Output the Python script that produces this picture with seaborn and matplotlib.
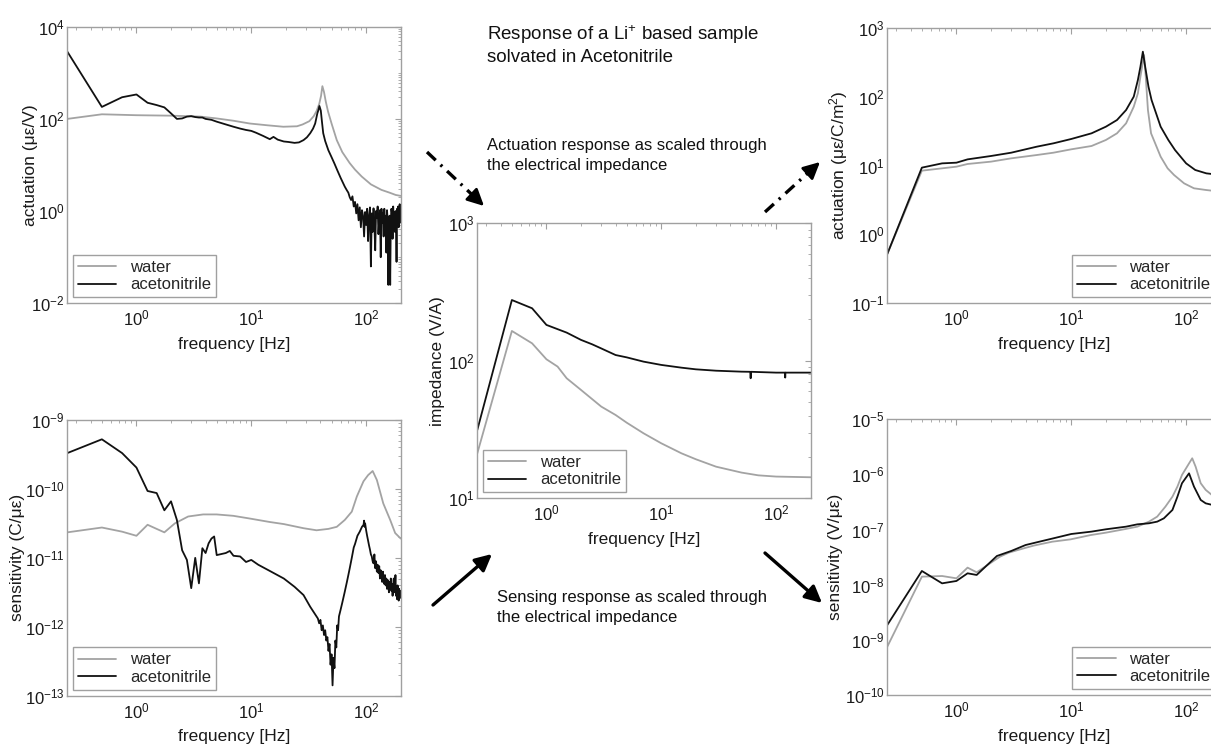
import numpy as np
import pandas as pd
import matplotlib
matplotlib.use("Agg")
import matplotlib.pyplot as plt
import seaborn as sns
from matplotlib.ticker import LogLocator, NullFormatter, FixedLocator, LogFormatterSciNotation
from matplotlib.lines import Line2D
from matplotlib.patches import FancyArrowPatch

# ---------------- data (values stored as log10 of the plotted quantity) ----------------
# Top-left: actuation (µε/V)
act_water_f = [0.25, 0.5, 1, 2, 3.6, 5, 7, 9.7, 14, 19, 25, 28, 32, 35, 37, 39, 40.5, 41.6, 43, 44.5,
               46.6, 50, 55.5, 62, 72, 80, 91.5, 110, 136, 160, 181, 200]
act_water_log = [2.00, 2.10, 2.08, 2.07, 2.05, 2.01, 1.96, 1.90, 1.86, 1.83, 1.84, 1.88, 1.95, 2.06, 2.17,
                 2.32, 2.50, 2.71, 2.58, 2.38, 2.16, 1.90, 1.54, 1.28, 1.04, 0.90, 0.75, 0.58, 0.46, 0.40,
                 0.35, 0.33]
act_acn_f = [0.25, 0.5, 0.75, 1.0, 1.25, 1.5, 1.75, 2.0, 2.25, 2.5, 2.75, 3.0, 3.25, 3.5, 3.75, 4.0, 4.5, 5,
             6, 7, 8, 9, 10, 11, 12.7, 14.5, 15.6, 17, 19.2, 21, 23.8, 26, 28.5, 30.5, 32.6, 34.5, 36, 37.6,
             38.5, 39.2, 40.3, 41.2, 42.3, 44, 46.9, 50, 53, 56, 60, 65.2, 68,
             70, 72, 74, 76, 78, 80, 82, 84, 86, 88, 90, 92, 94, 96, 98, 100, 102, 104, 106, 108,
             110, 112, 114, 116, 118, 120, 122, 124, 126, 128, 130, 132, 134, 136, 138, 140, 142, 144, 146, 148,
             150, 152, 154, 156, 158, 160, 162, 164, 166, 168, 170, 172, 174, 176, 178, 180, 182, 184, 186, 188,
             190, 192, 194, 196, 198, 200]
act_acn_log = [3.46, 2.26, 2.47, 2.53, 2.35, 2.30, 2.25, 2.12, 2.00, 2.01, 2.05, 2.06, 2.04, 2.03, 2.03, 2.00,
               1.98, 1.94, 1.88, 1.83, 1.79, 1.76, 1.74, 1.70, 1.63, 1.56, 1.61, 1.55, 1.51, 1.50, 1.48, 1.49,
               1.54, 1.60, 1.69, 1.79, 1.90, 2.12, 2.20, 2.28, 2.18, 1.95, 1.69, 1.52, 1.32, 1.17, 1.03, 0.89,
               0.72, 0.53, 0.45,
               0.40, 0.30, 0.24, 0.32, 0.10, 0.20, -0.05, 0.15, -0.20, 0.08,
               -0.35, 0.02, -0.10, -0.55, -0.02, -0.30, 0.05, -0.65, -0.10, 0.08,
               -1.20, -0.05, -0.45, 0.06, -0.30, -0.85, 0.00, -0.15, 0.10, -0.50,
               -0.20, 0.02, -1.00, 0.05, -0.25, -0.05, -0.55, 0.05, -0.30, -0.10,
               -0.90, 0.02, -0.20, -1.60, -0.30, -0.10, -1.60, -0.20, 0.05, -0.05,
               -0.60, 0.10, -0.30, -0.05, -0.45, 0.00, -0.20, -1.10, 0.05, -0.15,
               0.10, -0.35, -0.05, 0.15, -0.25, 0.10]

# Bottom-left: sensitivity (C/µε)
sens_water_f = [0.25, 0.5, 0.75, 1.0, 1.25, 1.5, 1.75, 2.16, 2.82, 3.81, 4.98, 6.96, 9.74, 14.5, 19.2, 28.5,
                37, 46.9, 55.5, 65.2, 75, 83, 94.8, 104, 114, 124, 141, 162, 179, 200]
sens_water_log = [-10.63, -10.56, -10.62, -10.68, -10.52, -10.58, -10.63, -10.50, -10.40, -10.37, -10.37,
                  -10.39, -10.43, -10.48, -10.51, -10.57, -10.60, -10.58, -10.55, -10.45, -10.33, -10.11,
                  -9.89, -9.80, -9.74, -9.87, -10.21, -10.45, -10.64, -10.72]
sens_acn_f = [0.25, 0.5, 0.75, 1.0, 1.25, 1.5, 1.75, 2.0, 2.25, 2.5, 2.75, 3.0, 3.25, 3.5, 3.75, 4.0, 4.25,
              4.5, 4.75, 5.0, 6, 6.5, 7, 8, 9, 10, 11.5, 14.5, 19.2, 23.8, 28.5, 32.6, 36, 38, 39, 40, 41, 42,
              43, 44, 45, 46, 47, 48, 49, 50, 51, 52, 53, 54, 55, 56, 57, 58, 60, 62, 65, 68, 70, 72, 75, 78,
              80, 84, 88, 92, 95, 96, 97, 98, 100, 102, 104, 106, 108, 110, 112, 114,
              116, 118, 120, 122, 124, 126, 128, 130, 132, 134, 136, 138, 140, 142, 144, 146, 148, 150, 152,
              154, 156, 158, 160, 162, 164, 166, 168, 170, 172, 174, 176, 178, 180, 182, 184, 186, 188, 190,
              192, 194, 196, 198, 200]
sens_acn_log = [-9.48, -9.28, -9.48, -9.69, -10.03, -10.06, -10.31, -10.18, -10.45, -10.89,
                -11.03, -11.44, -11.00, -11.37, -10.86, -10.93, -10.79, -10.72, -10.69, -10.96,
                -10.93, -10.90, -10.97, -10.98, -11.06, -11.03, -11.10, -11.19, -11.30, -11.42,
                -11.54, -11.71, -11.82, -11.88, -11.95, -11.90, -12.05, -11.98, -12.12, -12.05,
                -12.20, -12.15, -12.35, -12.25, -12.55, -12.40, -12.85, -12.45, -12.60, -12.20,
                -12.30, -11.98, -12.05, -11.85, -11.75, -11.65, -11.50, -11.35, -11.25, -11.15,
                -11.00, -10.85, -10.80, -10.68, -10.62, -10.55, -10.52, -10.46, -10.55, -10.50,
                -10.60, -10.68, -10.75, -10.82, -10.88, -10.95, -10.98, -11.05,
                -11.08, -10.95, -11.15, -11.05, -11.20, -11.10, -11.22, -11.12, -11.30, -11.18,
                -11.25, -11.35, -11.20, -11.30, -11.38, -11.25, -11.40, -11.30, -11.45, -11.32,
                -11.40, -11.50, -11.35, -11.45, -11.30, -11.48, -11.38, -11.55, -11.40, -11.30,
                -11.50, -11.42, -11.25, -11.55, -11.45, -11.60, -11.40, -11.50, -11.62, -11.45,
                -11.55, -11.48, -11.58]

# Centre: impedance (V/A)
imp_water_f = [0.25, 0.5, 0.75, 1.0, 1.25, 1.5, 2, 3, 4, 5, 7, 10, 15, 20, 30, 50, 70, 100, 200]
imp_water_log = [1.327, 2.217, 2.127, 2.011, 1.958, 1.873, 1.788, 1.667, 1.606, 1.55, 1.473, 1.40, 1.327,
                 1.284, 1.230, 1.187, 1.167, 1.158, 1.153]
imp_acn_f = [0.25, 0.5, 0.75, 1.0, 1.5, 2, 2.5, 3, 4, 5, 7, 10, 15, 20, 30, 50, 59.5, 60, 60.5, 100, 119.5,
             120, 120.5, 200]
imp_acn_log = [1.497, 2.442, 2.382, 2.261, 2.205, 2.152, 2.12, 2.09, 2.042, 2.025, 1.994, 1.970, 1.950, 1.938,
               1.928, 1.921, 1.920, 1.873, 1.920, 1.914, 1.914, 1.878, 1.914, 1.914]

# Top-right: actuation (µε/C/m²)
actz_water_f = [0.25, 0.5, 1.0, 1.25, 2, 3, 5, 7, 10, 15, 20, 25, 30, 35, 38, 40, 43, 44.5, 46.5, 49.5, 60,
                69, 78.5, 96, 117, 148, 200]
actz_water_log = [-0.284, 0.925, 0.983, 1.022, 1.056, 1.104, 1.152, 1.186, 1.235, 1.283, 1.37, 1.467, 1.612,
                  1.854, 2.047, 2.289, 2.603, 2.289, 1.805, 1.467, 1.128, 0.959, 0.862, 0.741, 0.669, 0.645,
                  0.62]
actz_acn_f = [0.25, 0.5, 0.75, 1.0, 1.25, 2, 3, 5, 7, 10, 15, 20, 25, 30, 35, 38, 40, 42, 44, 47, 50, 60, 70,
              80, 100, 120, 150, 200]
actz_acn_log = [-0.284, 0.969, 1.031, 1.041, 1.089, 1.138, 1.186, 1.273, 1.322, 1.385, 1.467, 1.563, 1.66,
                1.805, 2.0, 2.24, 2.434, 2.652, 2.434, 2.144, 1.95, 1.563, 1.37, 1.225, 1.031, 0.935, 0.886,
                0.862]

# Bottom-right: sensitivity (V/µε)
sensz_water_f = [0.25, 0.5, 0.75, 1.0, 1.25, 1.5, 2, 2.4, 2.86, 3.86, 4.72, 6.82, 9.88, 14.7, 20, 29.6, 37.6,
                 47.5, 56, 66, 76, 84, 92, 106, 113, 121, 134, 148, 167, 200]
sensz_water_log = [-9.123, -7.854, -7.842, -7.884, -7.69, -7.775, -7.60, -7.49, -7.418, -7.34, -7.29, -7.22,
                   -7.177, -7.10, -7.056, -6.99, -6.947, -6.856, -6.765, -6.584, -6.403, -6.22, -6.01, -5.80,
                   -5.707, -5.86, -6.16, -6.28, -6.37, -6.40]
sensz_acn_f = [0.25, 0.5, 0.75, 1.0, 1.25, 1.5, 2.25, 3, 4, 5, 7, 10, 15, 20, 30, 37.6, 47.5, 56, 64, 76, 84,
               92, 106, 117, 134, 148, 167, 200]
sensz_acn_log = [-8.73, -7.751, -7.975, -7.932, -7.793, -7.823, -7.479, -7.388, -7.28, -7.231, -7.158, -7.08,
                 -7.037, -6.995, -6.947, -6.905, -6.886, -6.856, -6.796, -6.644, -6.403, -6.16, -5.98, -6.22,
                 -6.463, -6.524, -6.55, -6.58]

solvents = ["water", "acetonitrile"]
x_major_ticks = [1, 10, 100]
xlabel_text = "frequency [Hz]"
title_text = "Response of a Li$^{+}$ based sample\nsolvated in Acetonitrile"
act_note = "Actuation response as scaled through\nthe electrical impedance"
sens_note = "Sensing response as scaled through\nthe electrical impedance"

# ---------------- style ----------------
sns.set_theme(style="white")
plt.rcParams["font.family"] = ["Liberation Sans", "DejaVu Sans"]
plt.rcParams["mathtext.fontset"] = "custom"
plt.rcParams["mathtext.rm"] = "Liberation Sans"
plt.rcParams["mathtext.it"] = "Liberation Sans:italic"
plt.rcParams["mathtext.bf"] = "Liberation Sans:bold"
plt.rcParams["axes.unicode_minus"] = False

W, H = 1211, 750
fig = plt.figure(figsize=(W / 100, H / 100), dpi=100)
fig.patch.set_facecolor("white")

GREY = "#a3a3a3"
BLACK = "#111111"
SPINE = "#a0a0a0"


def px_rect(x0, y0, x1, y1):
    return [x0 / W, 1 - y1 / H, (x1 - x0) / W, (y1 - y0) / H]


def panel(rect, wf, wl, af, al, ylim, yticks, ylabel, legloc, ylabel_right_px):
    ax = fig.add_axes(rect)
    df = pd.DataFrame({
        "freq": list(wf) + list(af),
        "value": [10.0 ** v for v in list(wl) + list(al)],
        "solvent": [solvents[0]] * len(wf) + [solvents[1]] * len(af),
    })
    sns.lineplot(data=df, x="freq", y="value", hue="solvent", hue_order=solvents,
                 palette={"water": GREY, "acetonitrile": BLACK}, estimator=None,
                 linewidth=1.3, ax=ax)
    ax.set_xscale("log")
    ax.set_yscale("log")
    ax.set_xlim(0.25, 200)
    ax.set_ylim(*ylim)
    ax.xaxis.set_major_locator(FixedLocator(x_major_ticks))
    ax.yaxis.set_major_locator(FixedLocator(yticks))
    for axis in (ax.xaxis, ax.yaxis):
        axis.set_major_formatter(LogFormatterSciNotation())
        axis.set_minor_locator(LogLocator(base=10, subs=[1, 2, 3, 4, 5, 6, 7, 8, 9], numticks=60))
        axis.set_minor_formatter(NullFormatter())
    ax.tick_params(which="both", direction="in", top=True, right=True,
                   color=SPINE, labelcolor="#1a1a1a", labelsize=12)
    ax.tick_params(which="major", length=4, width=0.8)
    ax.tick_params(which="minor", length=2.2, width=0.6)
    ax.tick_params(axis="y", pad=2)
    ax.tick_params(axis="x", pad=4)
    for s in ax.spines.values():
        s.set_color(SPINE)
        s.set_linewidth(1.0)
    ax.set_xlabel(xlabel_text, fontsize=12.5, color="#1a1a1a", labelpad=6)
    ax.set_ylabel(ylabel, fontsize=12.5, color="#1a1a1a")
    x0_px = rect[0] * W
    w_px = rect[2] * W
    ax.yaxis.set_label_coords((ylabel_right_px - x0_px) / w_px, 0.5)
    handles, labels = ax.get_legend_handles_labels()
    leg = ax.legend(handles, labels, loc=legloc, frameon=True, fancybox=False, framealpha=1,
                    edgecolor=SPINE, fontsize=12, handlelength=2.3, borderpad=0.3,
                    labelspacing=0.15, handletextpad=0.8, borderaxespad=0.35)
    leg.get_frame().set_linewidth(1.0)
    ax.set_facecolor("white")
    return ax


panel(px_rect(67.3, 26.7, 400.7, 303.3), act_water_f, act_water_log, act_acn_f, act_acn_log,
      (1e-2, 1e4), [1e-2, 1e0, 1e2, 1e4], "actuation (με/V)", "lower left", 38)
panel(px_rect(67.3, 420, 400.7, 695.7), sens_water_f, sens_water_log, sens_acn_f, sens_acn_log,
      (1e-13, 1e-9), [1e-13, 1e-12, 1e-11, 1e-10, 1e-9], "sensitivity (C/με)", "lower left", 25)
panel(px_rect(477.3, 223.3, 810.7, 498.3), imp_water_f, imp_water_log, imp_acn_f, imp_acn_log,
      (1e1, 1e3), [1e1, 1e2, 1e3], "impedance (V/A)", "lower left", 445)
panel(px_rect(887.3, 27.7, 1220.7, 303.3), actz_water_f, actz_water_log, actz_acn_f, actz_acn_log,
      (1e-1, 1e3), [1e-1, 1e0, 1e1, 1e2, 1e3], "actuation (με/C/m$^{2}$)", "lower right", 850)
panel(px_rect(887.3, 419.3, 1220.7, 695), sensz_water_f, sensz_water_log, sensz_acn_f, sensz_acn_log,
      (1e-10, 1e-5), [1e-10, 1e-9, 1e-8, 1e-7, 1e-6, 1e-5], "sensitivity (V/με)", "lower right", 843)

# ---------------- annotations ----------------
fig.text(487 / W, 1 - 23 / H, title_text, fontsize=13.5, va="top", ha="left",
         linespacing=1.25, color="#111111")
fig.text(487 / W, 1 - 138 / H, act_note, fontsize=12, va="top", ha="left",
         linespacing=1.38, color="#111111")
fig.text(497 / W, 1 - 590 / H, sens_note, fontsize=12, va="top", ha="left",
         linespacing=1.38, color="#111111")


def fxy(px, py):
    return (px / W, 1 - py / H)


def dashdot_arrow(p0, p1):
    x0, y0 = p0
    x1, y1 = p1
    frac = 0.78
    xm, ym = x0 + (x1 - x0) * frac, y0 + (y1 - y0) * frac
    ln = Line2D([x0 / W, xm / W], [1 - y0 / H, 1 - ym / H], transform=fig.transFigure,
                color="black", lw=2.4, dashes=(3.6, 2.0, 0.7, 2.0), solid_capstyle="butt",
                dash_capstyle="butt")
    fig.add_artist(ln)
    xh, yh = x0 + (x1 - x0) * 0.80, y0 + (y1 - y0) * 0.80
    ar = FancyArrowPatch(fxy(xh, yh), fxy(x1, y1), transform=fig.transFigure,
                         arrowstyle="-|>,head_length=0.5,head_width=0.25", mutation_scale=20,
                         color="black", lw=2.0, shrinkA=0, shrinkB=0)
    fig.add_artist(ar)


def solid_arrow(p0, p1):
    ar = FancyArrowPatch(fxy(*p0), fxy(*p1), transform=fig.transFigure,
                         arrowstyle="-|>,head_length=0.5,head_width=0.25", mutation_scale=20,
                         color="black", lw=2.4, shrinkA=0, shrinkB=0)
    fig.add_artist(ar)


dashdot_arrow((427, 152), (484, 206))
dashdot_arrow((765, 212), (820, 162))
solid_arrow((433, 605), (492, 554))
solid_arrow((765, 553), (822, 603))

fig.savefig("out.png", dpi=100, facecolor="white")
